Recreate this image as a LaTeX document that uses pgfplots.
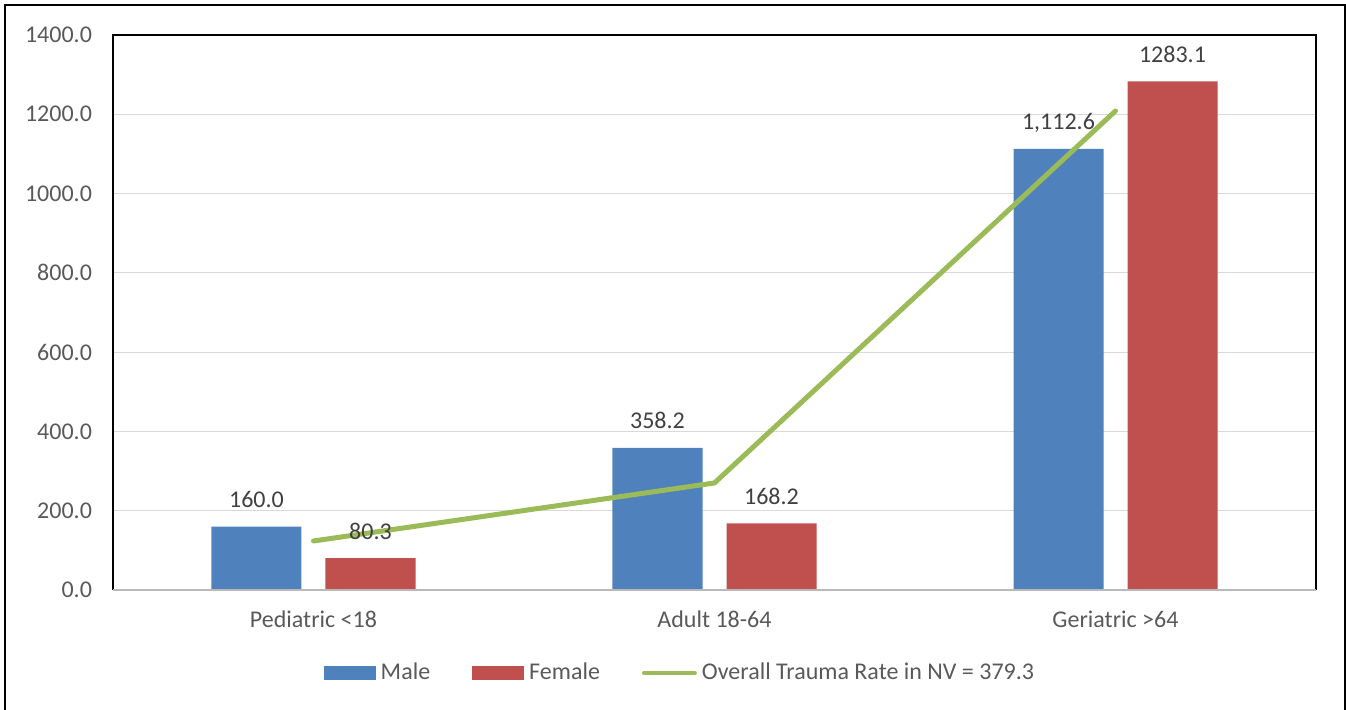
\documentclass[border=0pt]{standalone}
\usepackage{fontspec}
\setmainfont{Carlito}
\usepackage{pgfplots}
\pgfplotsset{compat=1.18}
\definecolor{male}{HTML}{4F81BD}
\definecolor{female}{HTML}{C0504D}
\definecolor{overall}{HTML}{9BBB59}
\definecolor{ticktext}{HTML}{595959}
\definecolor{labeltext}{HTML}{404040}
\definecolor{gridc}{HTML}{D9D9D9}
\begin{document}
\begin{tikzpicture}
\begin{axis}[
  at={(0pt,0pt)}, anchor=south west,
  width=601.5pt, height=277.5pt, scale only axis,
  font=\fontsize{12}{14.4}\selectfont,
  xmin=-0.5, xmax=2.5, ymin=0, ymax=1400,
  xtick={0,1,2},
  xticklabels={Pediatric <18, Adult 18-64, Geriatric >64},
  ytick={0,200,400,600,800,1000,1200,1400},
  major tick length=0pt,
  ymajorgrids, grid style={gridc, line width=0.6pt},
  axis line style={draw=none},
  /pgf/number format/.cd, fixed, fixed zerofill, precision=1, 1000 sep={}, assume math mode=true,
  /pgfplots/.cd,
  yticklabel style={text=ticktext, xshift=-7pt},
  xticklabel style={text=ticktext, anchor=base, yshift=-19pt},
  every node near coord/.style={text=labeltext, anchor=base, yshift=9.5pt, font=\fontsize{12}{14.4}\selectfont},
  legend columns=3,
  legend style={at={(0.4725,-0.1495)}, anchor=center, draw=none, fill=none,
    nodes={inner sep=2.5pt, text=ticktext, font=\fontsize{12}{14.4}\selectfont},
    /tikz/every even column/.append style={column sep=18.5pt}},
  after end axis/.code={
    \draw[black, line width=0.7pt] (rel axis cs:0,0) -- (rel axis cs:0,1) -- (rel axis cs:1,1) -- (rel axis cs:1,0);
    \draw[gray!55, line width=0.9pt] (rel axis cs:0,0) -- (rel axis cs:1,0);
  },
]
\addplot[ybar, bar width=45pt, bar shift=-28.5pt, fill=male, draw=none,
  legend image code/.code={\fill[male] (0pt,-3.5pt) rectangle (26pt,3.5pt);}]
  coordinates {(0,160.0) (1,358.2) (2,1112.6)};
\addlegendentry{Male}
\addplot[ybar, bar width=45pt, bar shift=28.5pt, fill=female, draw=none,
  legend image code/.code={\fill[female] (0pt,-3.5pt) rectangle (26pt,3.5pt);}]
  coordinates {(0,80.3) (1,168.2) (2,1283.1)};
\addlegendentry{Female}
\addplot[overall, line width=2.5pt, line cap=round, line join=round, sharp plot, mark=none,
  legend image code/.code={\draw[overall, line width=2.2pt, line cap=round] (1.1pt,0pt) -- (26.4pt,0pt);}]
  coordinates {(0,123.6) (1,270) (2,1208.3)};
\addlegendentry{Overall Trauma Rate in NV = 379.3}
\addplot[draw=none, fill=none, forget plot, mark=none,
  point meta=explicit symbolic, nodes near coords,
  every node near coord/.append style={xshift=-28.5pt}]
  coordinates {(0,160.0)[160.0] (1,358.2)[358.2] (2,1112.6)[{1,112.6}]};
\addplot[draw=none, fill=none, forget plot, mark=none,
  point meta=explicit symbolic, nodes near coords,
  every node near coord/.append style={xshift=28.5pt}]
  coordinates {(0,80.3)[80.3] (1,168.2)[168.2] (2,1283.1)[1283.1]};
\end{axis}
\draw[black, line width=1pt] (-54pt,-62pt) -- (-54pt,292.5pt) -- (615.75pt,292.5pt) -- (615.75pt,-62pt);
\pgfresetboundingbox
\useasboundingbox (-56.5pt,-60pt) rectangle (616.5pt,295pt);
\end{tikzpicture}
\end{document}
